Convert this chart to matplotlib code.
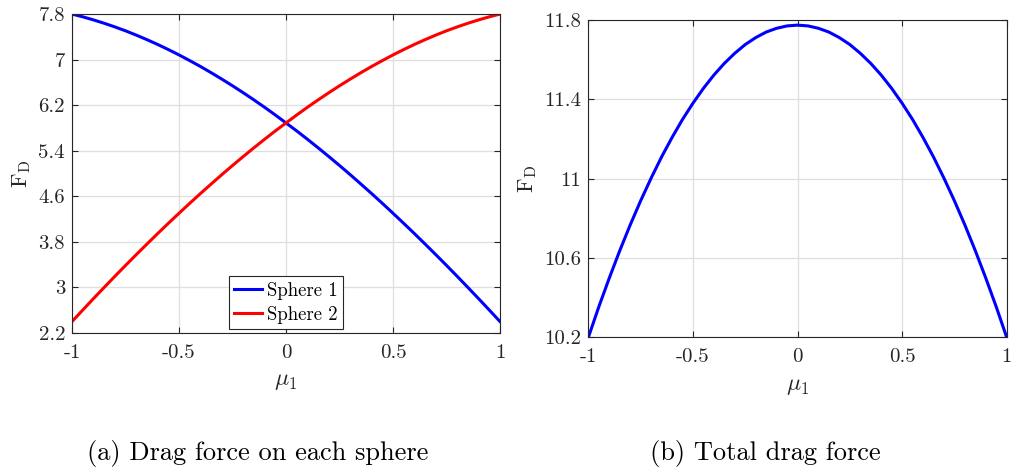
import matplotlib
matplotlib.use("Agg")
import matplotlib.pyplot as plt
from matplotlib.ticker import FormatStrFormatter

# ── Data ─────────────────────────────────────────────────────
mu1 = [-1.0, -0.95, -0.9, -0.85, -0.8, -0.75, -0.7, -0.65, -0.6, -0.55, -0.5,
       -0.45, -0.4, -0.35, -0.3, -0.25, -0.2, -0.15, -0.1, -0.05, 0.0,
       0.05, 0.1, 0.15, 0.2, 0.25, 0.3, 0.35, 0.4, 0.45, 0.5,
       0.55, 0.6, 0.65, 0.7, 0.75, 0.8, 0.85, 0.9, 0.95, 1.0]
sphere1 = [7.800, 7.752, 7.698, 7.639, 7.575, 7.506, 7.431, 7.351, 7.267, 7.177, 7.083,
           6.983, 6.880, 6.771, 6.658, 6.541, 6.419, 6.293, 6.163, 6.028, 5.888,
           5.748, 5.602, 5.452, 5.298, 5.141, 4.980, 4.815, 4.648, 4.477, 4.302,
           4.125, 3.945, 3.761, 3.575, 3.386, 3.194, 2.999, 2.802, 2.602, 2.400]
sphere2 = sphere1[::-1]
total = [10.200, 10.354, 10.499, 10.637, 10.767, 10.889, 11.003, 11.110, 11.208, 11.299, 11.381,
         11.456, 11.523, 11.582, 11.633, 11.677, 11.712, 11.740, 11.759, 11.771, 11.775,
         11.771, 11.759, 11.740, 11.712, 11.677, 11.633, 11.582, 11.523, 11.456, 11.381,
         11.299, 11.208, 11.110, 11.003, 10.889, 10.767, 10.637, 10.499, 10.354, 10.200]

xticks = [-1, -0.5, 0, 0.5, 1]
yticks_a = [2.2, 3, 3.8, 4.6, 5.4, 6.2, 7, 7.8]
yticks_b = [10.2, 10.6, 11, 11.4, 11.8]
captions = ["(a) Drag force on each sphere", "(b) Total drag force"]

plt.rcParams["font.family"] = "serif"
plt.rcParams["font.serif"] = ["cmr10"]
plt.rcParams["mathtext.fontset"] = "cm"
plt.rcParams["axes.unicode_minus"] = False
plt.rcParams["axes.formatter.use_mathtext"] = True

EDGE = "#262626"

fig = plt.figure(figsize=(10.11, 4.69), dpi=100)
ax1 = fig.add_axes([0.0712, 0.290, 0.4234, 0.680])
ax2 = fig.add_axes([0.582, 0.281, 0.4137, 0.676])


def style(ax, yticks):
    ax.set_xlim(-1, 1)
    ax.set_ylim(yticks[0], yticks[-1])
    ax.set_xticks(xticks)
    ax.set_yticks(yticks)
    ax.xaxis.set_major_formatter(FormatStrFormatter("%g"))
    ax.yaxis.set_major_formatter(FormatStrFormatter("%g"))
    ax.grid(True, color="#dfdfdf", linewidth=0.9)
    ax.set_axisbelow(True)
    ax.tick_params(direction="in", top=True, right=True, length=4,
                   width=0.8, color=EDGE, labelsize=15, labelcolor=EDGE)
    ax.tick_params(axis="x", pad=8)
    ax.tick_params(axis="y", pad=5)
    for s in ax.spines.values():
        s.set_color(EDGE)
        s.set_linewidth(0.8)
    ax.set_xlabel(r"$\mu_1$", fontsize=17, color=EDGE, labelpad=6)
    ax.set_ylabel(r"F$_{\mathrm{D}}$", fontsize=16, color=EDGE, labelpad=4)


# ── (a) Drag force on each sphere ────────────────────────────
ax1.plot(mu1, sphere1, color="#0000ff", linewidth=2.2, label="Sphere 1")
ax1.plot(mu1, sphere2, color="#ff0000", linewidth=2.2, label="Sphere 2")
style(ax1, yticks_a)
leg = ax1.legend(loc="lower center", bbox_to_anchor=(0.5, 0.0), fontsize=13.5,
                 fancybox=False, framealpha=1, edgecolor=EDGE,
                 handlelength=1.5, handletextpad=0.25, borderpad=0.3,
                 labelspacing=0.3, borderaxespad=0.2)
leg.get_frame().set_linewidth(0.8)

# ── (b) Total drag force ─────────────────────────────────────
ax2.plot(mu1, total, color="#0000ff", linewidth=2.2)
style(ax2, yticks_b)

fig.text(0.2545, 0.034, captions[0], ha="center", va="center", fontsize=19)
fig.text(0.757, 0.034, captions[1], ha="center", va="center", fontsize=19)

fig.savefig("out.png", dpi=100)
